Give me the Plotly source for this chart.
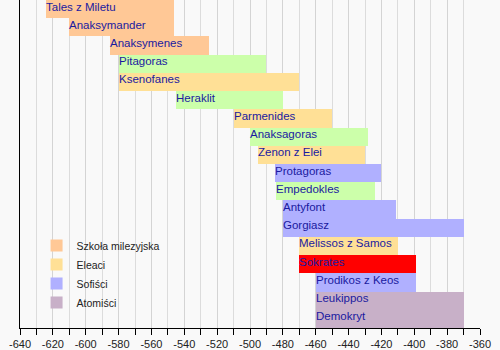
import plotly.graph_objects as go

names = ["Tales z Miletu", "Anaksymander", "Anaksymenes", "Pitagoras", "Ksenofanes",
         "Heraklit", "Parmenides", "Anaksagoras", "Zenon z Elei", "Protagoras",
         "Empedokles", "Antyfont", "Gorgiasz", "Melissos z Samos", "Sokrates",
         "Prodikos z Keos", "Leukippos", "Demokryt"]
starts = [-624, -610, -585, -580, -580, -545, -510, -500, -495, -485,
          -484, -480, -480, -470, -470, -460, -460, -460]
ends = [-546, -546, -525, -490, -470, -480, -450, -428, -430, -420,
        -424, -411, -370, -410, -399, -399, -370, -370]
groups = ["mil", "mil", "mil", "inni", "ele", "inni", "ele", "inni", "ele", "sof",
          "inni", "sof", "sof", "ele", "sok", "sof", "ato", "ato"]
tick_values = [-640, -620, -600, -580, -560, -540, -520, -500, -480, -460,
               -440, -420, -400, -380, -360]
tick_labels = ["-640", "-620", "-600", "-580", "-560", "-540", "-520", "-500",
               "-480", "-460", "-440", "-420", "-400", "-380", "-360"]

group_order = ["mil", "ele", "sof", "ato", "inni", "sok"]
group_labels = {"mil": "Szkoła milezyjska", "ele": "Eleaci", "sof": "Sofiści",
                "ato": "Atomiści", "inni": "Inni", "sok": "Sokrates"}
group_colors = {"mil": "#ffc896", "ele": "#ffe096", "sof": "#b0b0ff",
                "ato": "#c8b0c8", "inni": "#ccffaa", "sok": "#ff0000"}
legend_groups = ["mil", "ele", "sof", "ato"]

FONT = "Liberation Sans, Arial, sans-serif"

fig = go.Figure()
for g in group_order:
    idx = [i for i, gg in enumerate(groups) if gg == g]
    fig.add_trace(go.Bar(
        orientation="h",
        y=[i for i in idx],
        base=[starts[i] for i in idx],
        x=[ends[i] - starts[i] for i in idx],
        width=1.0,
        marker=dict(color=group_colors[g], line=dict(width=0)),
        name=group_labels[g],
        showlegend=g in legend_groups,
        hoverinfo="skip",
    ))

for i, n in enumerate(names):
    fig.add_annotation(
        x=starts[i], y=i - 0.14, text=n, showarrow=False,
        xanchor="left", yanchor="middle", xshift=-2,
        font=dict(family=FONT, size=11.5, color="#1a1aa0"),
    )

fig.update_layout(
    width=500, height=350,
    margin=dict(l=20, r=20, t=0, b=20),
    paper_bgcolor="#f9f9f9", plot_bgcolor="#f9f9f9",
    barmode="overlay", bargap=0,
    font=dict(family=FONT, color="#222222"),
    legend=dict(
        x=0.036, y=0.296, xanchor="left", yanchor="top",
        bgcolor="rgba(0,0,0,0)", borderwidth=0,
        font=dict(family=FONT, size=10.5, color="#222222"),
        traceorder="normal", tracegroupgap=0,
    ),
    xaxis=dict(
        range=[-640, -360], tickvals=tick_values, ticktext=tick_labels,
        showline=True, linecolor="black", linewidth=1,
        ticks="outside", ticklen=6, tickcolor="black",
        tickfont=dict(family=FONT, size=11, color="#222222"),
        showgrid=True, gridcolor="#d4d4d4", gridwidth=1,
        minor=dict(dtick=10, tick0=-640, showgrid=True, gridcolor="#dcdcdc",
                   ticks="outside", ticklen=6, tickcolor="black"),
        zeroline=False, fixedrange=True,
    ),
    yaxis=dict(
        range=[17.5, -0.5], showticklabels=False, showgrid=False,
        showline=True, linecolor="black", linewidth=1, zeroline=False,
        ticks="",
    ),
)

fig.write_html("out.html")
